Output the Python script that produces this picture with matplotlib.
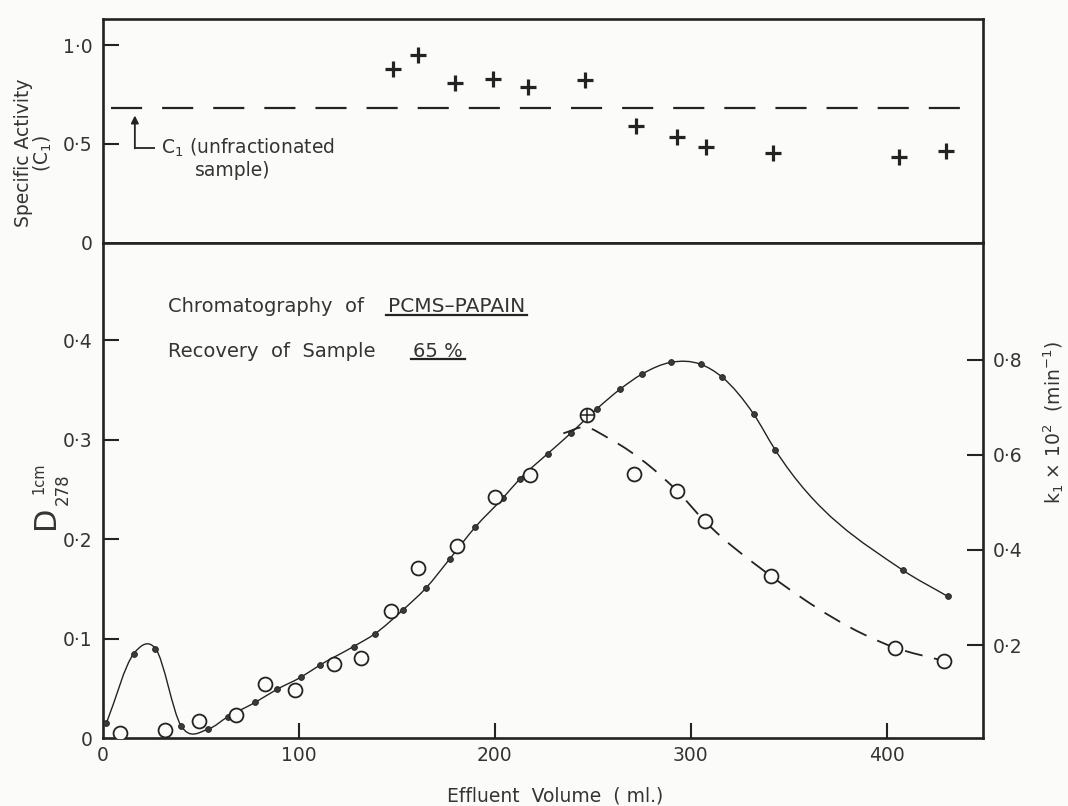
import numpy as np
import matplotlib
matplotlib.use("Agg")
import matplotlib.pyplot as plt
from matplotlib.path import Path
from matplotlib.patches import PathPatch
from matplotlib.lines import Line2D

# ---------------- data ----------------
# specific activity of the fractions (upper panel)
activity_volume = [148, 161, 180, 199, 217, 246, 272, 293, 308, 342, 406, 430]
activity_c1 = [0.88, 0.95, 0.81, 0.83, 0.79, 0.825, 0.593, 0.533, 0.484, 0.455, 0.433, 0.465]
unfractionated_c1 = 0.68

# extinction at 278 nm, 1 cm path (left axis)
d278_volume = [2, 16, 27, 40, 54, 64, 78, 89, 101, 111, 128, 139, 153, 165, 177,
               190, 204, 213, 227, 239, 247, 252, 264, 275, 290, 305, 316, 332, 343,
               408, 431]
d278_value = [0.015, 0.085, 0.090, 0.0125, 0.009, 0.0215, 0.036, 0.049, 0.061, 0.0735,
              0.092, 0.105, 0.1285, 0.151, 0.180, 0.212, 0.241, 0.261, 0.286, 0.307,
              0.322, 0.331, 0.351, 0.366, 0.378, 0.376, 0.363, 0.326, 0.290, 0.169,
              0.1425]

# first-order rate constant k1 x 10^2 (right axis)
k1_volume = [9, 32, 49, 68, 83, 98, 118, 132, 147, 161, 181, 200, 218, 247, 271,
             293, 307, 341, 404, 429]
k1_value = [0.016, 0.021, 0.0415, 0.054, 0.119, 0.106, 0.161, 0.173, 0.272, 0.362,
            0.408, 0.511, 0.557, 0.683, 0.560, 0.524, 0.461, 0.345, 0.195, 0.167]

# drawn trend of k1 on the falling side of the peak
k1_trend_volume = [235, 246, 258, 280, 293, 307, 341, 404, 429]
k1_trend_value = [0.645, 0.658, 0.635, 0.573, 0.524, 0.461, 0.345, 0.195, 0.167]

x_ticks = [0, 100, 200, 300, 400]
x_tick_labels = ["0", "100", "200", "300", "400"]
top_ticks = [0, 0.5, 1.0]
top_tick_labels = ["0", "0·5", "1·0"]
left_ticks = [0, 0.1, 0.2, 0.3, 0.4]
left_tick_labels = ["0", "0·1", "0·2", "0·3", "0·4"]
right_ticks = [0.2, 0.4, 0.6, 0.8]
right_tick_labels = ["0·2", "0·4", "0·6", "0·8"]

# ---------------- style ----------------
W_PX, H_PX = 1068, 806
BG = "#fbfbfa"
INK = "#232323"
TEXT = "#343434"
plt.rcParams["font.family"] = ["DejaVu Sans"]
plt.rcParams["mathtext.fontset"] = "dejavusans"


def hermite_path(xs, ys):
    """Smooth curve through the points as cubic Bezier segments."""
    x = np.asarray(xs, float)
    y = np.asarray(ys, float)
    h = np.diff(x)
    s = np.diff(y) / h
    m = np.empty_like(y)
    m[0], m[-1] = s[0], s[-1]
    m[1:-1] = (s[:-1] * h[1:] + s[1:] * h[:-1]) / (h[:-1] + h[1:])
    verts = [(x[0], y[0])]
    codes = [Path.MOVETO]
    for i in range(len(x) - 1):
        d = h[i] / 3.0
        verts += [(x[i] + d, y[i] + m[i] * d),
                  (x[i + 1] - d, y[i + 1] - m[i + 1] * d),
                  (x[i + 1], y[i + 1])]
        codes += [Path.CURVE4] * 3
    return Path(verts, codes)


def fx(x):
    return x / W_PX


def fy(y):
    return 1 - y / H_PX


fig = plt.figure(figsize=(W_PX / 100, H_PX / 100), dpi=100)
fig.patch.set_facecolor(BG)

left, right = 102.5, 983
top, sep, bottom = 19, 242.5, 738

ax_top = fig.add_axes([fx(left), fy(sep), (right - left) / W_PX, (sep - top) / H_PX])
ax_bot = fig.add_axes([fx(left), fy(bottom), (right - left) / W_PX, (bottom - sep) / H_PX])
ax_k = ax_bot.twinx()

for ax in (ax_top, ax_bot):
    ax.set_facecolor(BG)
    ax.set_xlim(0, 449)

ax_top.set_ylim(0, 1.133)
ax_bot.set_ylim(0, 0.4985)
ax_k.set_ylim(0.005, 1.046)

SPINE_W = 1.9
for sp in ax_top.spines.values():
    sp.set_linewidth(SPINE_W)
    sp.set_color(INK)
for name, sp in ax_bot.spines.items():
    sp.set_linewidth(SPINE_W)
    sp.set_color(INK)
    sp.set_visible(name in ("left", "bottom", "top"))
for name, sp in ax_k.spines.items():
    sp.set_linewidth(SPINE_W)
    sp.set_color(INK)
    sp.set_visible(name == "right")

tick_kw = dict(direction="in", length=11.5, width=1.5, color=INK,
               labelcolor=TEXT, labelsize=13.5, pad=7)

ax_top.set_xticks([])
ax_top.set_yticks(top_ticks, top_tick_labels)
ax_top.tick_params(axis="y", **tick_kw)
ax_top.yaxis.get_major_ticks()[0].tick1line.set_visible(False)

ax_bot.set_xticks(x_ticks, x_tick_labels)
ax_bot.set_yticks(left_ticks, left_tick_labels)
ax_bot.tick_params(axis="both", **tick_kw)
ax_bot.tick_params(axis="x", length=11, pad=6)
ax_bot.xaxis.get_major_ticks()[0].tick1line.set_visible(False)
ax_bot.yaxis.get_major_ticks()[0].tick1line.set_visible(False)

ax_k.set_yticks(right_ticks, right_tick_labels)
ax_k.tick_params(axis="y", **tick_kw)

# ---------------- upper panel ----------------
ax_top.axhline(unfractionated_c1, xmin=0.01, xmax=0.994, color=INK, lw=1.6,
               dashes=(14, 9))
ax_top.plot(activity_volume, activity_c1, ls="none", marker="+", ms=11, mew=2.3,
            color=INK, zorder=4)

ax_top.annotate("", xy=(16.5, 0.644), xytext=(16.5, 0.477),
                arrowprops=dict(arrowstyle="-|>", lw=1.3, color=INK,
                                mutation_scale=11, shrinkA=0, shrinkB=0))
ax_top.plot([16.5, 26.6], [0.477, 0.477], color=INK, lw=1.3, solid_capstyle="butt")
ax_top.text(30, 0.48, "C$_1$ (unfractionated", fontsize=13.5, color=TEXT,
            ha="left", va="center")
ax_top.text(66.4, 0.365, "sample)", fontsize=13.5, color=TEXT, ha="center",
            va="center")

# ---------------- lower panel ----------------
ax_bot.add_patch(PathPatch(hermite_path(d278_volume, d278_value), fill=False,
                           lw=1.0, ec=INK, zorder=2))
ax_bot.plot(d278_volume, d278_value, ls="none", marker="o", ms=4.2, color="#3a3a3a",
            mec=INK, mew=0.6, zorder=3)

ax_k.add_patch(PathPatch(hermite_path(k1_trend_volume, k1_trend_value), fill=False,
                         lw=1.3, ec=INK, linestyle=(0, (10, 6.5)), zorder=2))
ax_k.plot(k1_volume, k1_value, ls="none", marker="o", ms=10, mfc=BG, mec=INK,
          mew=1.3, zorder=4)
peak = int(np.argmax(k1_value))
ax_k.plot(k1_volume[peak], k1_value[peak], ls="none", marker="+", ms=9.5, mew=1.1,
          color=INK, zorder=5)

# ---------------- labels ----------------
fig.text(fx(34), fy(153), "Specific Activity\n(C$_1$)", rotation=90, ha="center",
         va="center", ma="center", linespacing=0.95, fontsize=13.5, color=TEXT)

fig.text(fx(45.6), fy(517.5), "D", rotation=90, ha="center", va="center",
         fontsize=22, color=TEXT)
fig.text(fx(38.8), fy(478.5), "1cm", rotation=90, ha="center", va="center",
         fontsize=10.5, color=TEXT)
fig.text(fx(62.9), fy(489), "278", rotation=90, ha="center", va="center",
         fontsize=12, color=TEXT)

fig.text(fx(1054), fy(423), "k$_1$ × 10$^2$  (min$^{-1}$)", rotation=90,
         ha="center", va="center", fontsize=13.5, color=TEXT)

fig.text(fx(555), fy(796), "Effluent  Volume  ( ml.)", ha="center", va="center",
         fontsize=13.5, color=TEXT)

t1 = fig.text(fx(168), fy(312), "Chromatography  of", ha="left", va="baseline",
              fontsize=14, color=TEXT)
t2 = fig.text(fx(388), fy(312), "PCMS–PAPAIN", ha="left", va="baseline",
              fontsize=14.5, color=TEXT)
t3 = fig.text(fx(168), fy(357), "Recovery  of  Sample", ha="left", va="baseline",
              fontsize=14, color=TEXT)
t4 = fig.text(fx(413), fy(357), "65 %", ha="left", va="baseline", fontsize=14,
              color=TEXT)

fig.canvas.draw()
renderer = fig.canvas.get_renderer()
for t, y_line in ((t2, 315), (t4, 359.5)):
    bb = t.get_window_extent(renderer)
    fig.add_artist(Line2D([(bb.x0 - 2) / W_PX, (bb.x1 + 2) / W_PX],
                          [fy(y_line), fy(y_line)], color=INK, lw=1.6,
                          transform=fig.transFigure))

fig.savefig("out.png", dpi=100, facecolor=BG)
